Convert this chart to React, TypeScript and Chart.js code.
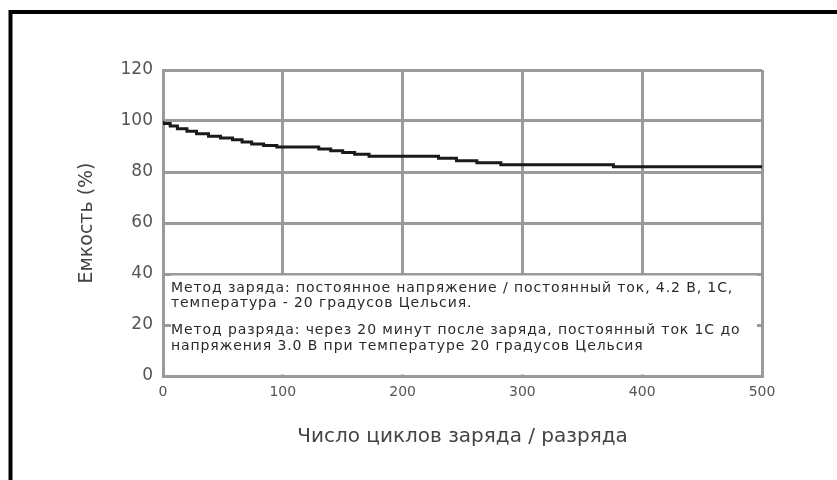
import React, { useEffect, useRef } from "react";
import { Chart, registerables } from "chart.js";

Chart.register(...registerables);

const cycles = [0, 6, 12, 20, 28, 38, 48, 58, 66, 74, 84, 95, 130, 140, 150, 160, 172, 230, 245, 262, 282, 376, 441, 500];
const capacity = [100, 99, 98, 97, 96, 95, 94, 93.3, 92.6, 91.8, 91, 90.4, 89.8, 89, 88.3, 87.6, 87, 86.2, 85.4, 84.4, 83.6, 82.8, 82.1, 82.1];

const xTitle = "Число циклов заряда / разряда";
const yTitle = "Емкость (%)";

const noteLines = [
  "Метод заряда: постоянное напряжение / постоянный ток, 4.2 В, 1С,",
  "температура - 20 градусов Цельсия.",
  "Метод разряда: через 20 минут после заряда, постоянный ток 1С до",
  "напряжения 3.0 В при температуре 20 градусов Цельсия",
];
const noteLineValues = [34.4, 28.6, 17.8, 11.6];
const noteBoxTop = 40;

const framePlugin = {
  id: "frame",
  beforeDraw(chart: any) {
    const ctx = chart.ctx;
    ctx.save();
    ctx.fillStyle = "#ffffff";
    ctx.fillRect(0, 0, chart.width, chart.height);
    ctx.strokeStyle = "#000000";
    ctx.lineWidth = 4;
    ctx.beginPath();
    ctx.moveTo(10.5, chart.height + 10);
    ctx.lineTo(10.5, 12);
    ctx.lineTo(chart.width + 10, 12);
    ctx.stroke();
    ctx.restore();
  },
};

const notePlugin = {
  id: "note",
  afterDatasetsDraw(chart: any) {
    const ctx = chart.ctx;
    const xs = chart.scales.x;
    const ys = chart.scales.y;
    const left = xs.getPixelForValue(0);
    const right = xs.getPixelForValue(500);
    const top = ys.getPixelForValue(noteBoxTop);
    const bottom = ys.getPixelForValue(0);
    ctx.save();
    ctx.fillStyle = "#ffffff";
    ctx.fillRect(left + 8, top + 1.5, right - left - 13, bottom - top - 3);
    ctx.fillStyle = "#2a2a2a";
    ctx.font = "14px 'DejaVu Sans'";
    (ctx as any).letterSpacing = "0.9px";
    ctx.textBaseline = "middle";
    ctx.textAlign = "left";
    noteLines.forEach((t, i) => {
      ctx.fillText(t, left + 8, ys.getPixelForValue(noteLineValues[i]));
    });
    ctx.restore();
  },
};

export default function App() {
  const ref = useRef<HTMLCanvasElement>(null);
  useEffect(() => {
    document.body.style.margin = "0";
    const chart = new Chart(ref.current!, {
      type: "line",
      data: {
        datasets: [
          {
            data: cycles.map((c, i) => ({ x: c, y: capacity[i] })),
            borderColor: "#1a1a1a",
            borderWidth: 3,
            pointRadius: 0,
            stepped: "after",
            fill: false,
          },
        ],
      },
      options: {
        animation: false,
        responsive: false,
        devicePixelRatio: 1,
        layout: { padding: { top: 70, right: 75, left: 0, bottom: 0 } },
        plugins: { legend: { display: false }, tooltip: { enabled: false } },
        scales: {
          x: {
            type: "linear",
            min: 0,
            max: 500,
            afterFit: (s: any) => {
              s.height = 104;
            },
            ticks: {
              stepSize: 100,
              color: "#555555",
              font: { family: "'DejaVu Sans'", size: 14 },
              padding: 8,
              maxRotation: 0,
            },
            grid: { color: "#9a9a9a", lineWidth: 3, drawTicks: false },
            border: { color: "#9a9a9a", width: 3 },
            title: {
              display: true,
              text: xTitle,
              color: "#444444",
              font: { family: "'DejaVu Sans'", size: 20 },
              padding: { top: 0, bottom: 31 },
            },
          },
          y: {
            min: 0,
            max: 120,
            afterFit: (s: any) => {
              s.width = 163;
            },
            ticks: {
              stepSize: 20,
              color: "#555555",
              font: { family: "'DejaVu Sans'", size: 17 },
              padding: 10,
            },
            grid: { color: "#9a9a9a", lineWidth: 3, drawTicks: false },
            border: { color: "#9a9a9a", width: 3 },
            title: {
              display: true,
              text: yTitle,
              color: "#444444",
              font: { family: "'DejaVu Sans'", size: 19 },
              padding: { top: 76, bottom: 0 },
            },
          },
        },
      },
      plugins: [framePlugin, notePlugin],
    });
    return () => chart.destroy();
  }, []);
  return (
    <div style={{ width: 837, height: 480, overflow: "hidden" }}>
      <canvas ref={ref} width={837} height={480} style={{ display: "block" }} />
    </div>
  );
}
